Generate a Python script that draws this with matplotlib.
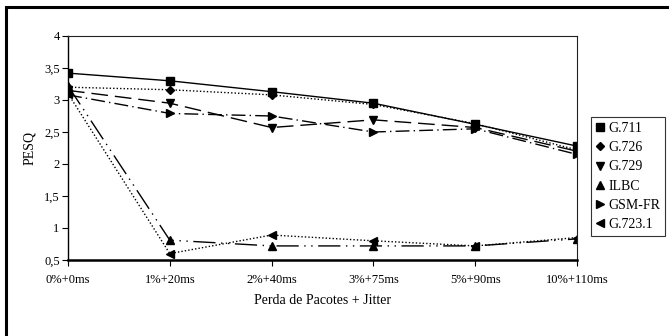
import matplotlib
matplotlib.use("Agg")
import matplotlib.pyplot as plt
from matplotlib.patches import Rectangle
from matplotlib.lines import Line2D
from matplotlib.ticker import FuncFormatter

plt.rcParams['font.family'] = ['Liberation Serif', 'DejaVu Serif']

categorias = ['0%+0ms', '1%+20ms', '2%+40ms', '3%+75ms', '5%+90ms', '10%+110ms']

g711 = [3.42, 3.30, 3.13, 2.95, 2.62, 2.28]
g726 = [3.20, 3.16, 3.08, 2.93, 2.63, 2.22]
g729 = [3.15, 2.95, 2.57, 2.69, 2.57, 2.20]
ilbc = [3.22, 0.81, 0.72, 0.72, 0.72, 0.83]
gsm_fr = [3.08, 2.79, 2.75, 2.50, 2.55, 2.15]
g7231 = [3.10, 0.60, 0.89, 0.80, 0.72, 0.85]

series = [
    ('G.711', g711, 's', '-', 1.0),
    ('G.726', g726, 'D', (0, (1, 1.5)), 1.0),
    ('G.729', g729, 'v', (0, (12, 5)), 1.0),
    ('ILBC', ilbc, '^', (0, (16, 4, 1, 4, 1, 4)), 1.0),
    ('GSM-FR', gsm_fr, '>', (0, (10, 3, 1, 3)), 1.0),
    ('G.723.1', g7231, '<', (0, (1, 1.5)), 1.0),
]

fig = plt.figure(figsize=(6.69, 3.36), dpi=100)
ax = fig.add_axes([68/669, 1 - 260/336, 509/669, 224/336])

x = list(range(len(categorias)))
for nome, vals, mk, ls, lw in series:
    ms = 4.5 if mk == 'D' else 5.5
    ax.plot(x, vals, color='black', linestyle=ls, linewidth=lw,
            marker=mk, markersize=ms, label=nome)

ax.set_xlim(0, 5)
ax.set_ylim(0.5, 4)
ax.set_xticks(x)
ax.set_xticklabels(categorias, fontsize=9)
ax.set_yticks([0.5, 1, 1.5, 2, 2.5, 3, 3.5, 4])
ax.yaxis.set_major_formatter(FuncFormatter(lambda v, p: ('%g' % v).replace('.', ',')))
ax.tick_params(axis='y', labelsize=9, length=4, width=0.8, direction='out', pad=2)
ax.tick_params(axis='x', labelsize=9, length=4, width=0.8, direction='out', pad=6)

for s in ['top', 'right']:
    ax.spines[s].set_linewidth(0.8)
    ax.spines[s].set_color('#222222')
ax.spines['left'].set_linewidth(1.0)
ax.spines['bottom'].set_linewidth(1.8)

ax.set_xlabel('Perda de Pacotes + Jitter', fontsize=10, labelpad=6)
ax.set_ylabel('PESQ', fontsize=10, labelpad=6)

handles = [Line2D([], [], color='black', linestyle='none', marker=mk,
                  markersize=(4.5 if mk == 'D' else 5.5))
           for _, _, mk, _, _ in series]
leg = fig.legend(handles, [s[0] for s in series], loc='upper left',
                 bbox_to_anchor=(591/669, 1 - 117/336), fontsize=10,
                 frameon=True, fancybox=False, handlelength=0.6,
                 handletextpad=0.3, labelspacing=0.45, borderpad=0.35,
                 borderaxespad=0)
leg.get_frame().set_edgecolor('black')
leg.get_frame().set_linewidth(0.8)

# moldura externa
fig.patches.append(Rectangle((6/669, -0.05), 1.0, 1 - 7/336 + 0.05,
                             transform=fig.transFigure, fill=False,
                             edgecolor='black', linewidth=2.2))

fig.savefig('out.png', dpi=100)
